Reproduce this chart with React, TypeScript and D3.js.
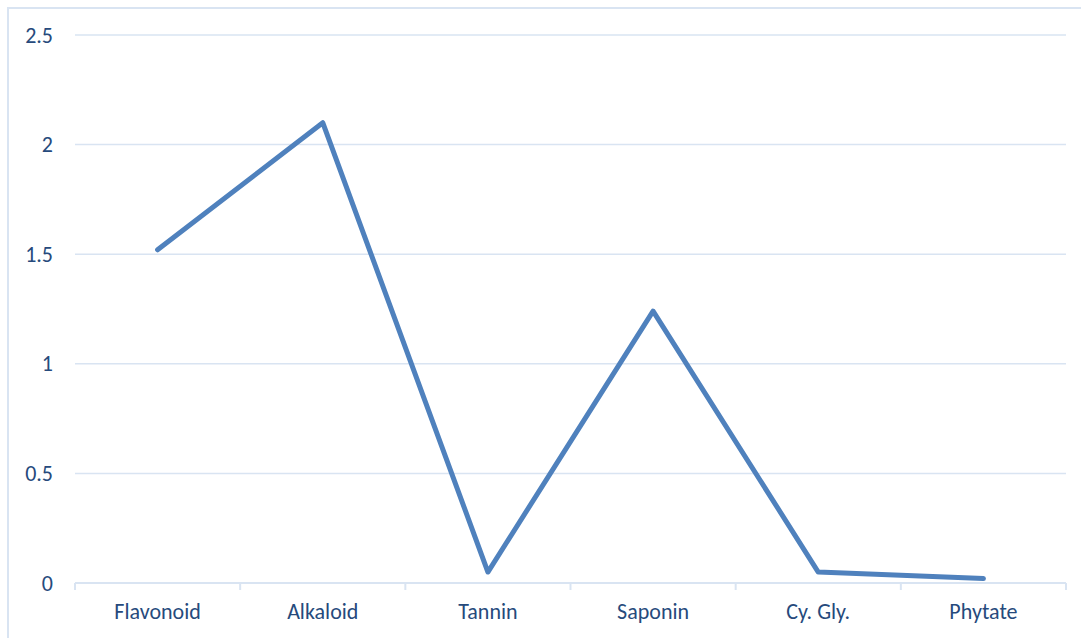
import * as d3 from "d3";

const categories = ["Flavonoid", "Alkaloid", "Tannin", "Saponin", "Cy. Gly.", "Phytate"];
const values = [1.52, 2.1, 0.05, 1.24, 0.05, 0.02];
const yTicks = [0, 0.5, 1, 1.5, 2, 2.5];

export default function App() {
  const width = 1081;
  const height = 638;
  const left = 75;
  const right = 1066;
  const top = 35;
  const bottom = 583;
  const textColor = "#264a7c";
  const gridColor = "#d9e4f2";
  const font = "Carlito, Calibri, Lato, sans-serif";

  const x = d3.scaleBand<string>().domain(categories).range([left, right]);
  const y = d3.scaleLinear().domain([0, 2.5]).range([bottom, top]);

  const line = d3
    .line<number>()
    .x((_, i) => (x(categories[i]) ?? 0) + x.bandwidth() / 2)
    .y((d) => y(d));

  const boundaries = categories.map((c) => x(c) ?? 0).concat([right]);

  return (
    <svg
      width={width}
      height={height}
      style={{ position: "absolute", left: 0, top: 0 }}
    >
      <rect x={8} y={8} width={width + 10} height={height + 10} fill="white" stroke={gridColor} strokeWidth={2} />
      {yTicks.map((t) => (
        <g key={t}>
          {t > 0 && (
            <line x1={left} x2={right} y1={y(t)} y2={y(t)} stroke={gridColor} strokeWidth={1.5} />
          )}
          <text
            x={53}
            y={y(t)}
            textAnchor="end"
            dominantBaseline="central"
            fontFamily={font}
            fontSize={22}
            fill={textColor}
          >
            {t}
          </text>
        </g>
      ))}
      <line x1={left} x2={right} y1={bottom} y2={bottom} stroke={gridColor} strokeWidth={2} />
      {boundaries.map((b, i) => (
        <line key={i} x1={b} x2={b} y1={bottom} y2={bottom + 7} stroke={gridColor} strokeWidth={2} />
      ))}
      {categories.map((c) => (
        <text
          key={c}
          x={(x(c) ?? 0) + x.bandwidth() / 2}
          y={611}
          textAnchor="middle"
          dominantBaseline="central"
          fontFamily={font}
          fontSize={22}
          fill={textColor}
        >
          {c}
        </text>
      ))}
      <path
        d={line(values) ?? ""}
        fill="none"
        stroke="#4f81bd"
        strokeWidth={5}
        strokeLinecap="round"
        strokeLinejoin="round"
      />
    </svg>
  );
}
